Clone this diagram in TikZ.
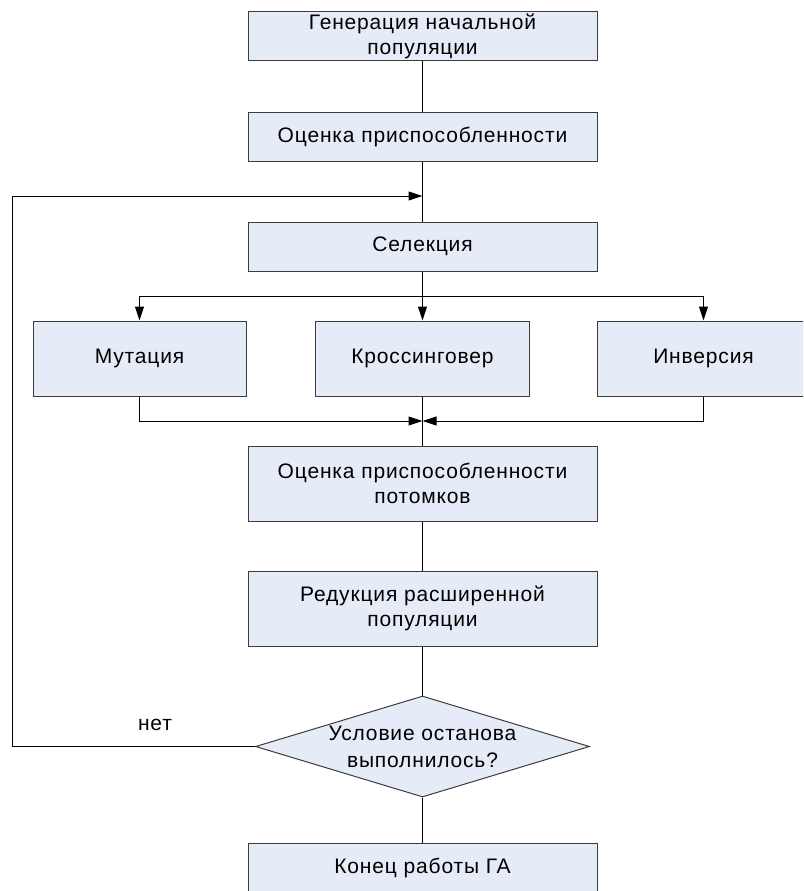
\documentclass[tikz,border=0pt]{standalone}
\usepackage{fontspec}
\setmainfont[LetterSpace=4]{Liberation Sans}
\usetikzlibrary{arrows.meta,shapes.geometric}
\definecolor{boxfill}{HTML}{E6ECF7}
\definecolor{edgecol}{HTML}{3C3C3C}
\tikzset{
  box/.style={draw=edgecol, fill=boxfill, line width=1pt, minimum width=349pt,
    minimum height=49pt, inner sep=0pt, align=center,
    font=\fontsize{21}{25}\selectfont},
  tallbox/.style={box, minimum height=75pt},
  smallbox/.style={tallbox, minimum width=213pt},
  decision/.style={diamond, draw=edgecol, fill=boxfill, line width=1pt,
    minimum width=334pt, minimum height=101pt, aspect=3.3, inner sep=0pt},
  lbl/.style={align=center, inner sep=0pt, font=\fontsize{21}{27}\selectfont},
  conn/.style={draw=black, line width=1pt},
  arr/.style={conn, -{Triangle[length=14pt,width=9pt]}}
}
\begin{document}
\begin{tikzpicture}[x=1pt,y=-1pt]
\clip (0,0) rectangle (803,891);
\node[box] (gen) at (422.5,36.5) {Генерация начальной\\популяции};
\node[box] (eval) at (422.5,136.5) {Оценка приспособленности};
\node[box] (sel) at (422.5,246.5) {Селекция};
\node[smallbox] (mut) at (139.5,358.5) {Мутация};
\node[smallbox, minimum width=214pt] (cross) at (422.5,358.5) {Кроссинговер};
\node[smallbox] (inv) at (703.5,358.5) {Инверсия};
\node[tallbox] (off) at (422.5,483.5) {Оценка приспособленности\\потомков};
\node[tallbox] (red) at (422.5,608.5) {Редукция расширенной\\популяции};
\node[decision] (cond) at (422.5,746.5) {};
\node[lbl] (condtxt) at (cond.center) {Условие останова\\выполнилось?};
\node[box] (fin) at (422.5,867.5) {Конец работы ГА};
\node[lbl] (no) at (155,725) {нет};

\coordinate (loopL) at (12,196);
\coordinate (loopT) at (422.5,196);
\coordinate (br) at (422.5,296);
\coordinate (mg) at (422.5,421);

\draw[conn] (gen) -- (eval);
\draw[conn] (eval) -- (sel);
\draw[arr] (cond.west) -| (loopL) -- (loopT);
\draw[conn] (sel) -- (br);
\draw[arr] (br) -- (cross);
\draw[arr] (br) -| (mut.north);
\draw[arr] (br) -| (inv.north);
\draw[arr] (mut.south) |- (mg);
\draw[arr] (inv.south) |- (mg);
\draw[conn] (cross) -- (off);
\draw[conn] (off) -- (red);
\draw[conn] (red) -- (cond);
\draw[conn] (cond) -- (fin);
\end{tikzpicture}
\end{document}
